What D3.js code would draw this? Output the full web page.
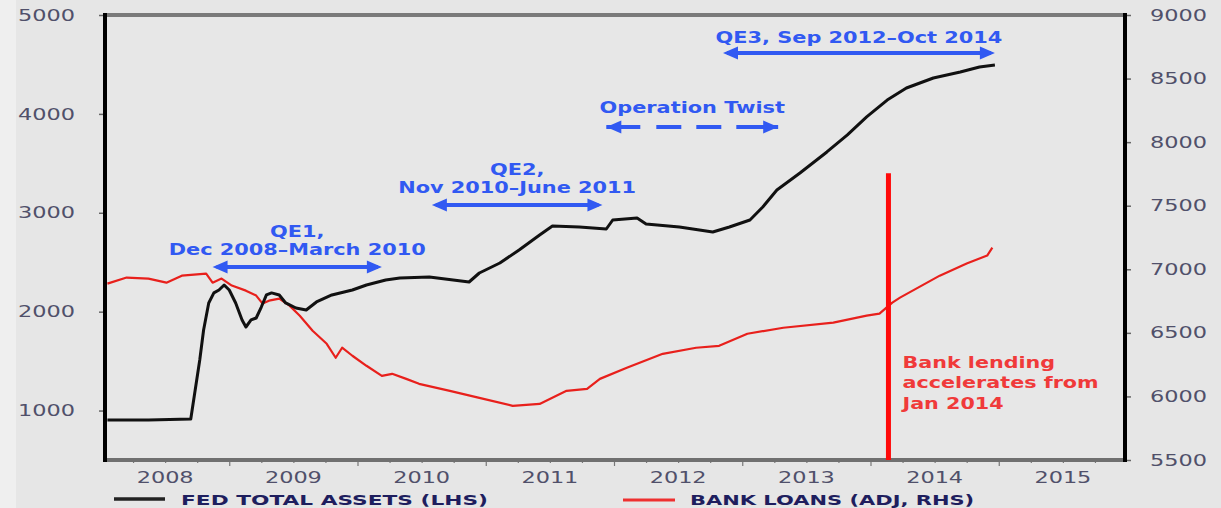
<!DOCTYPE html>
<html><head><meta charset="utf-8">
<script src="https://cdn.jsdelivr.net/npm/d3@7"></script>
<style>
html,body{margin:0;padding:0;background:#e6e6e6;}
svg{display:block;}
</style></head><body>
<svg id="chart" width="1221" height="508"></svg>
<script>
// ---------- data ----------
const years = ["2008","2009","2010","2011","2012","2013","2014","2015"];
const leftTicks = [1000, 2000, 3000, 4000, 5000];
const rightTicks = [5500, 6000, 6500, 7000, 7500, 8000, 8500, 9000];

// Fed total assets (LHS), decimal-year dates
const fedDates = [2008.05, 2008.37, 2008.70, 2008.77, 2008.80, 2008.84, 2008.88, 2008.92, 2008.96, 2009.00,
  2009.05, 2009.10, 2009.13, 2009.17, 2009.21, 2009.25, 2009.29, 2009.33, 2009.39, 2009.44,
  2009.52, 2009.60, 2009.68, 2009.80, 2009.96, 2010.07, 2010.22, 2010.33, 2010.56, 2010.87,
  2010.95, 2011.11, 2011.26, 2011.42, 2011.52, 2011.73, 2011.94, 2011.99, 2012.18, 2012.25,
  2012.51, 2012.77, 2012.90, 2013.06, 2013.16, 2013.27, 2013.45, 2013.66, 2013.82, 2013.97,
  2014.13, 2014.28, 2014.49, 2014.70, 2014.85, 2014.97];
const fedAssets = [905, 905, 915, 1511, 1815, 2088, 2190, 2219, 2270, 2219,
  2088, 1916, 1845, 1916, 1936, 2047, 2169, 2190, 2169, 2088,
  2037, 2017, 2098, 2169, 2219, 2270, 2320, 2340, 2351, 2300,
  2391, 2492, 2624, 2775, 2866, 2856, 2836, 2927, 2947, 2887,
  2856, 2806, 2856, 2927, 3058, 3230, 3402, 3615, 3787, 3969,
  4140, 4262, 4363, 4424, 4474, 4494];

// Bank loans (adj, RHS)
const loanDates = [2008.05, 2008.20, 2008.37, 2008.51, 2008.63, 2008.82, 2008.87, 2008.94, 2009.02, 2009.13,
  2009.21, 2009.26, 2009.31, 2009.39, 2009.47, 2009.55, 2009.65, 2009.76, 2009.83, 2009.88,
  2009.96, 2010.07, 2010.19, 2010.27, 2010.38, 2010.48, 2010.72, 2010.95, 2011.21, 2011.42,
  2011.63, 2011.79, 2011.89, 2012.10, 2012.38, 2012.64, 2012.82, 2013.04, 2013.32, 2013.71,
  2013.97, 2014.07, 2014.17, 2014.23, 2014.54, 2014.75, 2014.91, 2014.95];
const bankLoans = [6887, 6935, 6927, 6895, 6950, 6966, 6895, 6927, 6872, 6832,
  6793, 6730, 6753, 6769, 6714, 6635, 6517, 6414, 6304, 6383,
  6320, 6241, 6162, 6178, 6138, 6099, 6044, 5989, 5926, 5941,
  6044, 6060, 6138, 6225, 6335, 6383, 6398, 6493, 6540, 6580,
  6635, 6651, 6738, 6777, 6950, 7045, 7108, 7171];

const seriesNames = ["FED TOTAL  ASSETS (LHS)", "BANK LOANS (ADJ, RHS)"];

const programs = [
  {lines: ["QE1,", "Dec 2008\u2013March 2010"], from: 2008.87, to: 2010.19, level: 2452, dashed: false},
  {lines: ["QE2,", "Nov 2010\u2013June 2011"], from: 2010.58, to: 2011.91, level: 3079, dashed: false},
  {lines: ["Operation Twist"], from: 2011.94, to: 2013.28, level: 3867, dashed: true},
  {lines: ["QE3, Sep 2012\u2013Oct 2014"], from: 2012.85, to: 2014.97, level: 4616, dashed: false}
];
const lendingDate = 2014.14;
const lendingTop = 7755;
const lendingText = ["Bank lending", "accelerates from", "Jan 2014"];

// ---------- layout ----------
const svg = d3.select("#chart");
const W = 1221, H = 508;
const plotL = 105, plotR = 1125, plotT = 15, plotB = 460;
const SX = 1.4; // horizontal text stretch

const x = d3.scaleLinear().domain([2008, 2016]).range([101, 1127]);
const yL = d3.scaleLinear().domain([500, 5000]).range([plotB, plotT]);
const yR = d3.scaleLinear().domain([5500, 9000]).range([plotB, plotT]);

svg.append("rect").attr("width", W).attr("height", H).attr("fill", "#e6e6e6");
svg.append("rect").attr("width", 16).attr("height", H).attr("fill", "#efefef");
svg.append("rect").attr("x", plotL).attr("y", plotT).attr("width", plotR - plotL).attr("height", plotB - plotT).attr("fill", "#e7e7e7");

function stretchText(g, px, py, str, o) {
  return g.append("text")
    .attr("transform", `translate(${px},${py}) scale(${o.sx || SX},1)`)
    .attr("text-anchor", o.anchor || "start")
    .attr("font-family", o.family || "'DejaVu Sans', Verdana, sans-serif")
    .attr("font-weight", o.weight || "bold")
    .attr("font-size", o.size || 15)
    .attr("fill", o.fill || "#000")
    .attr("dy", o.dy || null)
    .text(str);
}

// ---------- axes ----------
const tickColor = "#50506a";
const axL = svg.append("g").attr("transform", `translate(${plotL},0)`)
  .call(d3.axisLeft(yL).tickValues(leftTicks).tickSize(6).tickFormat(d3.format("d")));
const axR = svg.append("g").attr("transform", `translate(${plotR},0)`)
  .call(d3.axisRight(yR).tickValues(rightTicks).tickSize(6).tickFormat(d3.format("d")));
[axL, axR].forEach(a => {
  a.select(".domain").remove();
  a.selectAll(".tick line").attr("stroke", "#666").attr("stroke-width", 1.5);
  a.selectAll(".tick text").attr("font-family", "'DejaVu Sans', Verdana, sans-serif")
    .attr("font-size", 16).attr("fill", tickColor).attr("font-weight", "normal");
});
axL.selectAll(".tick text").attr("x", -30 / SX).attr("transform", `scale(${SX},1)`);
axR.selectAll(".tick text").attr("x", 25 / SX).attr("transform", `scale(${SX},1)`);

// bottom ticks
const axB = svg.append("g").attr("transform", `translate(0,${plotB})`)
  .call(d3.axisBottom(x).tickValues(d3.range(2008.25, 2016, 0.25).filter(v => v > 2008.1 && v < 2015.95)).tickSize(4).tickFormat(""));
axB.select(".domain").remove();
axB.selectAll(".tick line").attr("stroke", "#777").attr("stroke-width", 1.2)
  .attr("y2", d => Number.isInteger(d) ? 6 : 3);

const yearG = svg.append("g");
years.forEach(yr => {
  stretchText(yearG, x(+yr + 0.5), 483, yr, {anchor: "middle", weight: "normal", size: 16, fill: tickColor});
});

// frame
svg.append("line").attr("x1", plotL).attr("x2", plotR).attr("y1", plotT).attr("y2", plotT)
  .attr("stroke", "#7a7a7a").attr("stroke-width", 4);
svg.append("line").attr("x1", plotL).attr("x2", plotR).attr("y1", plotB).attr("y2", plotB)
  .attr("stroke", "#707070").attr("stroke-width", 4);
svg.append("line").attr("x1", plotL).attr("x2", plotL).attr("y1", plotT - 2).attr("y2", plotB + 2)
  .attr("stroke", "#000").attr("stroke-width", 4);
svg.append("line").attr("x1", plotR).attr("x2", plotR).attr("y1", plotT - 2).attr("y2", plotB + 2)
  .attr("stroke", "#000").attr("stroke-width", 4);

// ---------- series ----------
const fedData = fedDates.map((d, i) => [d, fedAssets[i]]);
const loanData = loanDates.map((d, i) => [d, bankLoans[i]]);

svg.append("path").datum(loanData)
  .attr("fill", "none").attr("stroke", "#e8201c").attr("stroke-width", 2.2).attr("stroke-linejoin", "round")
  .attr("d", d3.line().x(d => x(d[0])).y(d => yR(d[1])));
svg.append("path").datum(fedData)
  .attr("fill", "none").attr("stroke", "#111").attr("stroke-width", 3).attr("stroke-linejoin", "round")
  .attr("d", d3.line().x(d => x(d[0])).y(d => yL(d[1])));

// ---------- annotations ----------
const blue = "#3159f2";
const annG = svg.append("g");
programs.forEach(p => {
  const x1 = x(p.from), x2 = x(p.to), yy = yL(p.level);
  const head = 15, hh = 6.5;
  const ln = annG.append("line").attr("x1", x1 + 4).attr("x2", x2 - 4).attr("y1", yy).attr("y2", yy)
    .attr("stroke", blue).attr("stroke-width", 4);
  if (p.dashed) ln.attr("x1", x1).attr("x2", x2).attr("stroke-dasharray", "34,16,25,15,25,15,60");
  annG.append("path").attr("fill", blue)
    .attr("d", `M${x1},${yy}L${x1 + head},${yy - hh}L${x1 + head},${yy + hh}Z`);
  annG.append("path").attr("fill", blue)
    .attr("d", `M${x2},${yy}L${x2 - head},${yy - hh}L${x2 - head},${yy + hh}Z`);
  const cx = (x1 + x2) / 2;
  const n = p.lines.length;
  p.lines.forEach((t, i) => {
    const off = n === 2 ? (i === 0 ? -30 : -11.5) : (p.dashed ? -14 : -10);
    stretchText(annG, cx, yy + off, t, {anchor: "middle", size: 15, fill: blue, sx: 1.39});
  });
});

// lending marker
const lx = x(lendingDate);
svg.append("line").attr("x1", lx).attr("x2", lx).attr("y1", yR(lendingTop)).attr("y2", plotB)
  .attr("stroke", "#ff0a0a").attr("stroke-width", 5);
const redG = svg.append("g");
lendingText.forEach((t, i) => {
  stretchText(redG, lx + 14, yR(6225) + i * 20.5, t, {size: 15, fill: "#f03a3a", sx: 1.38});
});

// ---------- legend ----------
const legG = svg.append("g");
legG.append("line").attr("x1", 114).attr("x2", 165).attr("y1", 499).attr("y2", 499)
  .attr("stroke", "#222").attr("stroke-width", 3.5);
stretchText(legG, 181, 505, seriesNames[0], {size: 14, fill: "#1e1e5e", sx: 1.55});
legG.append("line").attr("x1", 623).attr("x2", 675).attr("y1", 500).attr("y2", 500)
  .attr("stroke", "#ee3030").attr("stroke-width", 3);
stretchText(legG, 690, 505, seriesNames[1], {size: 14, fill: "#1e1e5e", sx: 1.5});
</script>
</body></html>
